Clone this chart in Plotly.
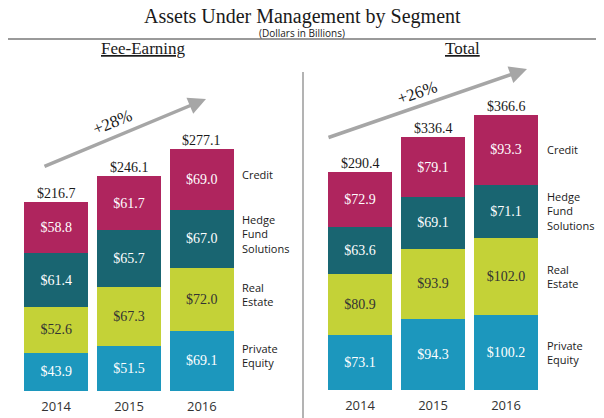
import plotly.graph_objects as go

years = ["2014", "2015", "2016"]
segments = ["Private<br>Equity", "Real<br>Estate", "Hedge<br>Fund<br>Solutions", "Credit"]
colors = ["#1C97BD", "#C4D237", "#196571", "#AF255E"]
text_colors = ["white", "#333333", "white", "white"]

# fee-earning AUM ($bn)
fee_pe = [43.9, 51.5, 69.1]
fee_re = [52.6, 67.3, 72.0]
fee_hf = [61.4, 65.7, 67.0]
fee_cr = [58.8, 61.7, 69.0]
fee_total = [216.7, 246.1, 277.1]

# total AUM ($bn)
tot_pe = [73.1, 94.3, 100.2]
tot_re = [80.9, 93.9, 102.0]
tot_hf = [63.6, 69.1, 71.1]
tot_cr = [72.9, 79.1, 93.3]
tot_total = [290.4, 336.4, 366.6]

# page body has an 8px margin, so the figure is a bit smaller than the window
OFF = 8
W, H = 604 - OFF, 418 - OFF
serif = "Liberation Serif"
sans = "Open Sans"


def px(x, y):
    # window pixel -> paper coords
    return (x - OFF) / W, 1 - (y - OFF) / H


fig = go.Figure()

panels = [
    ("x", "y", [fee_pe, fee_re, fee_hf, fee_cr], fee_total, 5),
    ("x2", "y2", [tot_pe, tot_re, tot_hf, tot_cr], tot_total, 0),
]

annotations = []
for xa, ya, series, totals, shift in panels:
    for i, vals in enumerate(series):
        fig.add_trace(go.Bar(
            x=years, y=vals, xaxis=xa, yaxis=ya,
            marker=dict(color=colors[i], line=dict(width=0)),
            texttemplate="$%{y:.1f}", textposition="inside",
            insidetextanchor="middle", constraintext="none",
            textfont=dict(family=serif, size=14, color=text_colors[i]),
            showlegend=False, hoverinfo="skip",
        ))
    # totals above bars (x given as category index)
    for k, t in enumerate(totals):
        annotations.append(dict(
            x=k, y=t, xref=xa, yref=ya, text="$%.1f" % t, showarrow=False,
            yanchor="bottom", yshift=-1, font=dict(family=serif, size=14, color="#1a1a1a"),
        ))
    # segment labels beside last bar
    base = 0
    for i, vals in enumerate(series):
        mid = base + vals[-1] / 2
        base += vals[-1]
        annotations.append(dict(
            x=1, y=mid, xref=xa + " domain", yref=ya, text=segments[i],
            showarrow=False, xanchor="left", align="left", yshift=shift, xshift=2,
            font=dict(family=sans, size=11, color="#1a1a1a"),
        ))

# headings
annotations += [
    dict(x=px(302, 0)[0], y=px(0, 16)[1], xref="paper", yref="paper", text="Assets Under Management by Segment",
         showarrow=False, xanchor="center", yanchor="middle", font=dict(family=serif, size=20, color="#1a1a1a")),
    dict(x=px(302, 0)[0], y=px(0, 33)[1], xref="paper", yref="paper", text="(Dollars in Billions)",
         showarrow=False, xanchor="center", yanchor="middle", font=dict(family=sans, size=10, color="#1a1a1a")),
    dict(x=px(143, 0)[0], y=px(0, 49)[1], xref="paper", yref="paper", text="<u>Fee-Earning</u>",
         showarrow=False, xanchor="center", yanchor="middle", font=dict(family=serif, size=17, color="#1a1a1a")),
    dict(x=px(462, 0)[0], y=px(0, 49)[1], xref="paper", yref="paper", text="<u>Total</u>",
         showarrow=False, xanchor="center", yanchor="middle", font=dict(family=serif, size=17, color="#1a1a1a")),
]

# growth arrows
for (tx, ty), (hx, hy), (lx, ly), ang, lab in [
    ((43, 167), (206, 99), (112, 122), -22, "+28%"),
    ((327, 138), (527, 69), (418, 93), -19, "+26%"),
]:
    annotations.append(dict(
        x=px(hx, hy)[0], y=px(hx, hy)[1], xref="paper", yref="paper",
        ax=tx - hx, ay=ty - hy, showarrow=True, arrowhead=2, arrowsize=1,
        arrowwidth=3.5, arrowcolor="#A6A6A6", text="",
    ))
    annotations.append(dict(
        x=px(lx, ly)[0], y=px(lx, ly)[1], xref="paper", yref="paper", text=lab,
        textangle=ang, showarrow=False, xanchor="center", yanchor="middle",
        font=dict(family=serif, size=17, color="#1a1a1a"),
    ))

shapes = [
    dict(type="line", xref="paper", yref="paper", x0=-0.02, x1=1, y0=px(0, 39)[1], y1=px(0, 39)[1],
         line=dict(color="#9A9A9A", width=2)),
    dict(type="line", xref="paper", yref="paper", x0=px(303, 0)[0], x1=px(303, 0)[0],
         y0=0, y1=px(0, 72)[1], line=dict(color="#9A9A9A", width=1.5)),
]

axis_common = dict(type="category", range=[-0.5, 2.5], showgrid=False, zeroline=False,
                   showline=False, ticks="", fixedrange=True, ticklabelstandoff=6,
                   tickfont=dict(family=sans, size=13, color="#333333"))
yaxis_common = dict(showgrid=False, zeroline=False, showline=False, showticklabels=False, fixedrange=True)

fig.update_layout(
    width=W, height=H,
    margin=dict(l=0, r=0, t=0, b=0),
    paper_bgcolor="white", plot_bgcolor="white",
    barmode="stack", bargap=0.12,
    xaxis=dict(domain=[px(19.75, 0)[0], px(238.25, 0)[0]], anchor="y", **axis_common),
    yaxis=dict(domain=[px(0, 391)[1], px(0, 60)[1]], range=[0, 331 / 0.872], anchor="x", **yaxis_common),
    xaxis2=dict(domain=[px(323.5, 0)[0], px(542.5, 0)[0]], anchor="y2", **axis_common),
    yaxis2=dict(domain=[px(0, 390)[1], px(0, 60)[1]], range=[0, 330 / 0.751], anchor="x2", **yaxis_common),
    annotations=annotations,
    shapes=shapes,
)

fig.write_html("out.html")
